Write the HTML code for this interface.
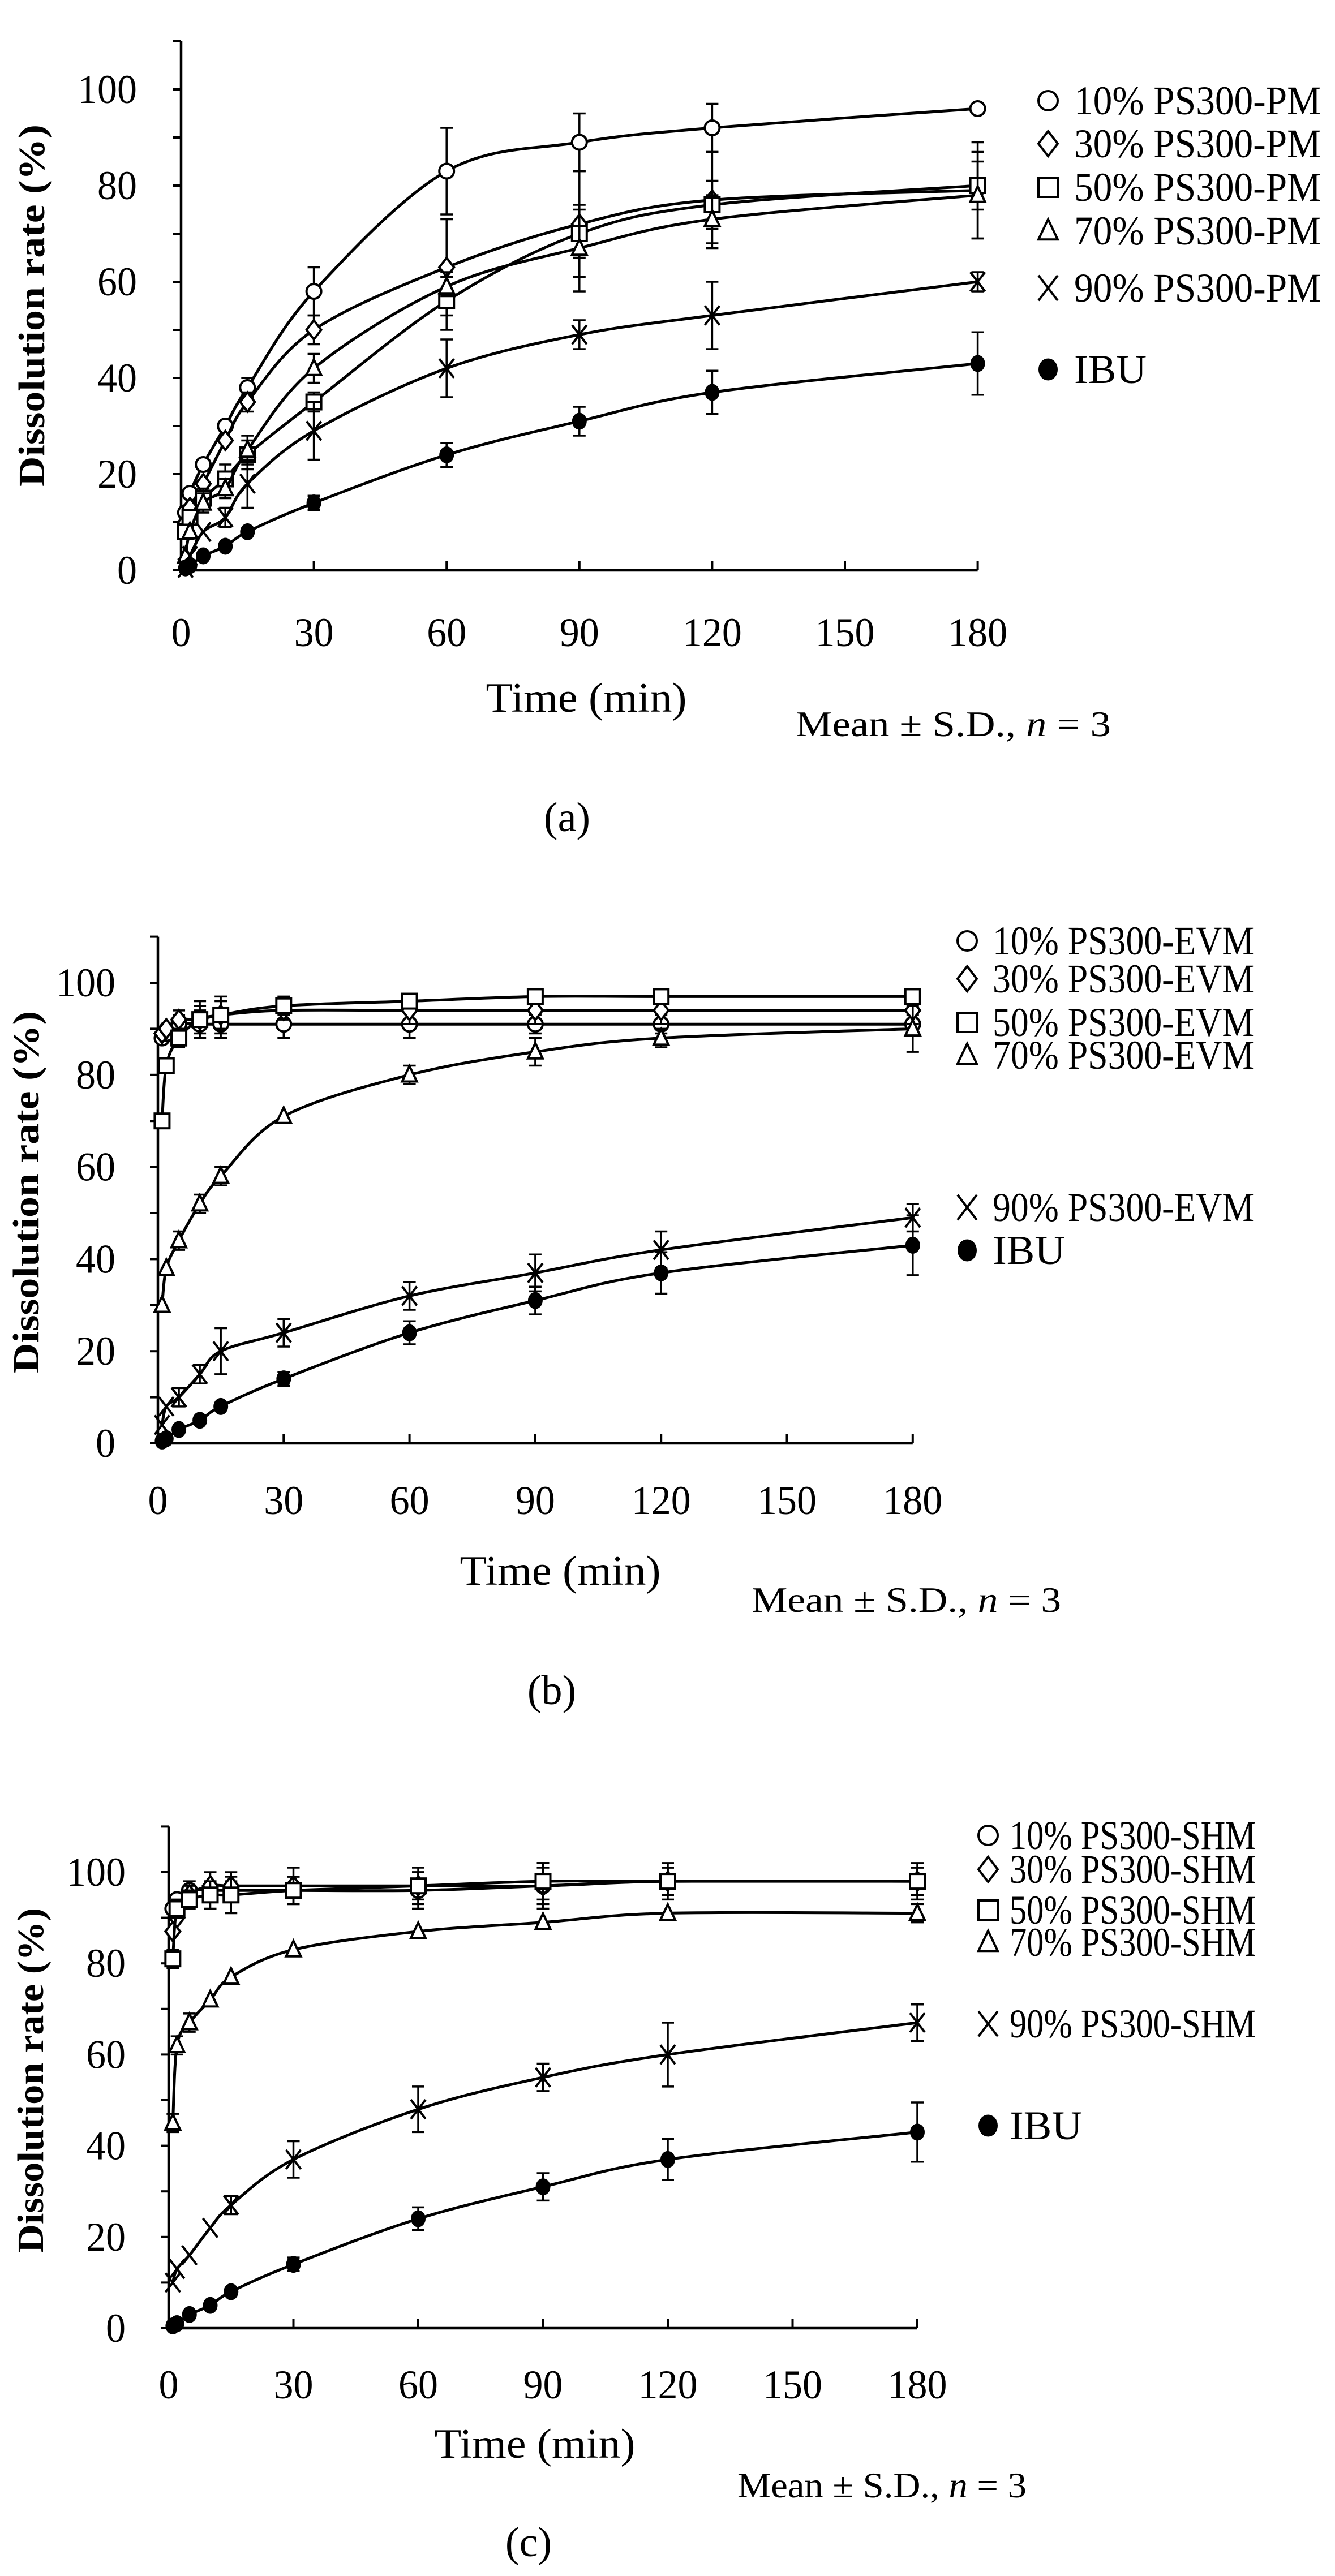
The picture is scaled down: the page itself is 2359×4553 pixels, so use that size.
<!DOCTYPE html>
<html><head><meta charset="utf-8"><style>
html,body{margin:0;padding:0;background:#fff;}
svg{display:block;}
text{font-family:"Liberation Serif",serif;fill:#000;}
</style></head><body>
<svg id="s" xmlns="http://www.w3.org/2000/svg" width="2359" height="4553" viewBox="0 0 2359 4553"></svg>
<script>
const NS="http://www.w3.org/2000/svg";
const S=document.getElementById('s');
function el(t,a,txt){const e=document.createElementNS(NS,t);for(const k in a)e.setAttribute(k,a[k]);if(txt!==undefined)e.textContent=txt;S.appendChild(e);return e;}
function txt(x,y,s,opt){opt=opt||{};const a={x:x,y:y,'font-size':opt.fs||62,'text-anchor':opt.anchor||'start'};
 if(opt.len){a.textLength=opt.len;a.lengthAdjust='spacingAndGlyphs';}
 if(opt.tr)a.transform=opt.tr;if(opt.style)a.style=opt.style;return el('text',a,s);}
function spline(pts){let d='M'+pts[0][0]+','+pts[0][1];
 for(let i=0;i<pts.length-1;i++){const p0=pts[i-1]||pts[i],p1=pts[i],p2=pts[i+1],p3=pts[i+2]||p2;
  const c1=[p1[0]+(p2[0]-p0[0])/6,p1[1]+(p2[1]-p0[1])/6],c2=[p2[0]-(p3[0]-p1[0])/6,p2[1]-(p3[1]-p1[1])/6];
  d+=' C'+c1[0].toFixed(1)+','+c1[1].toFixed(1)+' '+c2[0].toFixed(1)+','+c2[1].toFixed(1)+' '+p2[0].toFixed(1)+','+p2[1].toFixed(1);}
 return d;}
function marker(type,x,y,r){const st={fill:'#fff',stroke:'#000','stroke-width':4};
 if(type==='o')el('circle',Object.assign({cx:x,cy:y,r:r},st));
 else if(type==='d')el('polygon',Object.assign({points:`${x},${y-r*1.3} ${x+r},${y} ${x},${y+r*1.3} ${x-r},${y}`},st));
 else if(type==='s')el('rect',Object.assign({x:x-r,y:y-r,width:2*r,height:2*r},st));
 else if(type==='t')el('polygon',Object.assign({points:`${x},${y-r*1.2} ${x+r},${y+r*0.9} ${x-r},${y+r*0.9}`},st));
 else if(type==='x'){el('path',{d:`M${x-r},${y-r*1.3}L${x+r},${y+r*1.3}M${x+r},${y-r*1.3}L${x-r},${y+r*1.3}`,stroke:'#000','stroke-width':4});}
 else if(type==='f')el('ellipse',{cx:x,cy:y,rx:r,ry:r*1.15,fill:'#000'});}
const T=[1,2,5,10,15,30,60,90,120,180];
function panel(c){
 const X=t=>c.x0+c.kx*t, Y=v=>c.y0-c.ky*v;
 el('line',{x1:c.x0,y1:Y(110),x2:c.x0,y2:c.y0,stroke:'#000','stroke-width':4.5});
 el('line',{x1:c.x0,y1:c.y0,x2:X(180),y2:c.y0,stroke:'#000','stroke-width':4.5});
 for(let v=0;v<=110;v+=10){el('line',{x1:c.x0-14,y1:Y(v),x2:c.x0,y2:Y(v),stroke:'#000','stroke-width':4});}
 for(let v=0;v<=100;v+=20){txt(c.ylab,Y(v)+24,String(v),{anchor:'end',fs:72,len:String(v).length*35});}
 for(let t=30;t<=180;t+=30){el('line',{x1:X(t),y1:c.y0-16,x2:X(t),y2:c.y0,stroke:'#000','stroke-width':4});}
 for(let t=0;t<=180;t+=30){const s=String(t);txt(X(t),c.xlab,s,{anchor:'middle',fs:72,len:s.length*35});}
 txt(0,0,'Dissolution rate (%)',{anchor:'middle',fs:66,len:c.ytl,tr:`translate(${c.ytx},${c.yty}) rotate(-90)`,style:'font-weight:bold'});
 txt(c.xtx,c.xty,'Time (min)',{anchor:'middle',fs:74,len:355});
 const m=el('text',{x:c.mx,y:c.my,'font-size':64,textLength:c.ml,lengthAdjust:'spacingAndGlyphs'});
 m.innerHTML='Mean ± S.D., <tspan font-style="italic">n</tspan> = 3';
 txt(c.lx,c.ly,c.label,{anchor:'middle',fs:74});
 c.series.forEach(s=>{
  const pts=T.map((t,i)=>[X(t),Y(s.v[i])]);
  el('path',{d:spline(pts),fill:'none',stroke:'#000','stroke-width':5});
  T.forEach((t,i)=>{const e=s.e?s.e[i]:0;if(e>1.2){const x=X(t);
   el('path',{d:`M${x},${Y(s.v[i]+e)}V${Y(s.v[i]-e)}M${x-11},${Y(s.v[i]+e)}H${x+11}M${x-11},${Y(s.v[i]-e)}H${x+11}`,stroke:'#000','stroke-width':3.5,fill:'none'});}});
  pts.forEach(p=>marker(s.m,p[0],p[1],13));
 });
 c.leg.forEach((l,i)=>{marker(l[0],c.lsx,l[2],17);txt(c.ltx,l[2]+24,l[1],{fs:72,len:l[1]==='IBU'?128:c.ltl});});
}
const IBU=[0.5,1,3,5,8,14,24,31,37,43], IBUe=[0,0,1,1,1,1.5,2.5,3,4.5,6.5];
panel({x0:320,kx:7.82,y0:1008,ky:8.5,ylab:242,xlab:1142,ytx:78,yty:540,ytl:640,xtx:1036,xty:1258,mx:1406,my:1301,ml:557,lx:1002,ly:1469,label:'(a)',
 lsx:1852,ltx:1898,ltl:436,
 series:[
  {m:'o',v:[12,16,22,30,38,58,83,89,92,96],e:[0,0,0,0,2,5,9,6,5,1]},
  {m:'d',v:[10,13,18,27,35,50,63,72,77,79],e:[0,0,0,0,2,3,10,11,10,10]},
  {m:'s',v:[8,11,15,19,24,35,56,70,76,80],e:[0,0,2,3,3,2,6,5,5,5]},
  {m:'t',v:[3,8,14,17,25,42,59,67,73,78],e:[0,0,2,2,3,3,2,9,5,9]},
  {m:'x',v:[0.5,3,8,11,18,29,42,49,53,60],e:[0,0,1,2,5,6,6,3,7,2]},
  {m:'f',v:IBU,e:IBUe}],
 leg:[['o','10% PS300-PM',178],['d','30% PS300-PM',254],['s','50% PS300-PM',331],['t','70% PS300-PM',408],['x','90% PS300-PM',509],['f','IBU',653]]});
panel({x0:279,kx:7.41,y0:2551,ky:8.14,ylab:204,xlab:2676,ytx:68,yty:2107,ytl:640,xtx:990,xty:2801,mx:1328,my:2849,ml:547,lx:975,ly:3012,label:'(b)',
 lsx:1709,ltx:1754,ltl:462,
 series:[
  {m:'o',v:[88,89,91,91,91,91,91,91,91,91],e:[0,1,2,3,3,3,3,2,2,2]},
  {m:'d',v:[89,90,92,92,93,94,94,94,94,94],e:[0,1,2,3,3,2,3,3,3,3]},
  {m:'s',v:[70,82,88,92,93,95,96,97,97,97],e:[0,1,2,4,4,2,1,1,1,1]},
  {m:'t',v:[30,38,44,52,58,71,80,85,88,90],e:[0,1,2,2,2,1,2,3,2,5]},
  {m:'x',v:[4,8,10,15,20,24,32,37,42,49],e:[0,1,2,2,5,3,3,4,4,3]},
  {m:'f',v:IBU,e:IBUe}],
 leg:[['o','10% PS300-EVM',1663],['d','30% PS300-EVM',1730],['s','50% PS300-EVM',1807],['t','70% PS300-EVM',1865],['x','90% PS300-EVM',2134],['f','IBU',2210]]});
panel({x0:298,kx:7.35,y0:4115,ky:8.06,ylab:222,xlab:4239,ytx:76,yty:3677,ytl:610,xtx:945,xty:4344,mx:1303,my:4414,ml:511,lx:934,ly:4518,label:'(c)',
 lsx:1746,ltx:1784,ltl:435,
 series:[
  {m:'o',v:[92,94,96,96,96,96,96,97,98,98],e:[0,1,2,2,2,3,4,4,3,3]},
  {m:'d',v:[87,90,95,97,97,97,97,97,98,98],e:[0,1,2,3,3,4,4,5,3,4]},
  {m:'s',v:[81,92,94,95,95,96,97,98,98,98],e:[2,2,2,3,4,3,3,4,4,3]},
  {m:'t',v:[45,62,67,72,77,83,87,89,91,91],e:[2,2,2,1,1,1,1,1,1,2]},
  {m:'x',v:[10,13,16,22,27,37,48,55,60,67],e:[0,1,1,1,2,4,5,3,7,4]},
  {m:'f',v:IBU,e:IBUe}],
 leg:[['o','10% PS300-SHM',3244],['d','30% PS300-SHM',3304],['s','50% PS300-SHM',3376],['t','70% PS300-SHM',3433],['x','90% PS300-SHM',3577],['f','IBU',3757]]});
</script>
</body></html>
